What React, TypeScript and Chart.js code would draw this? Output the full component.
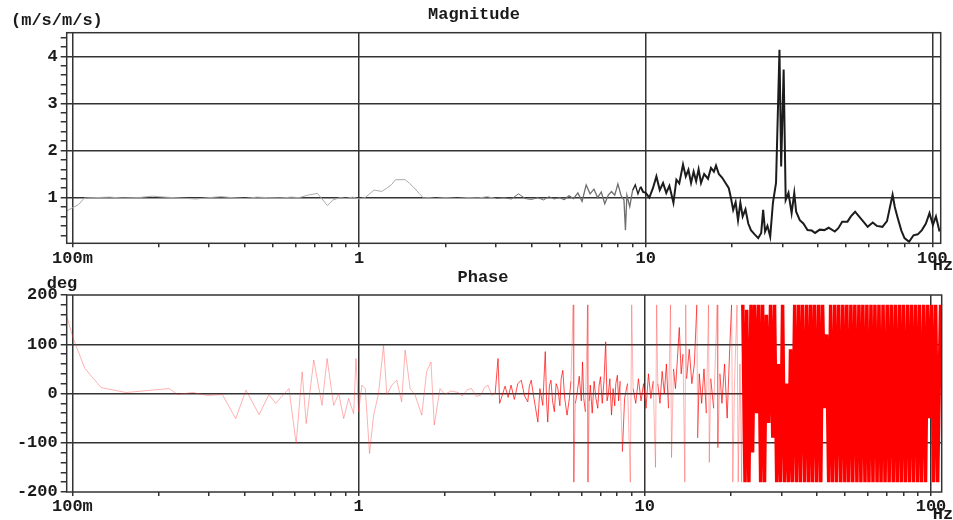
import React, { useEffect, useRef } from 'react';
import { Chart, registerables } from 'chart.js';

Chart.register(...registerables);

// ---------- tick definitions ----------
const xMajorTicks = [0.1, 1, 10, 100];
const xMajorLabels = ['100m', '1', '10', '100'];
const xMinorTicks = [0.2, 0.3, 0.4, 0.5, 0.6, 0.7, 0.8, 0.9, 2, 3, 4, 5, 6, 7, 8, 9, 20, 30, 40, 50, 60, 70, 80, 90];

const magTicks = [0.2, 0.4, 0.6, 0.8, 1, 1.2, 1.4, 1.6, 1.8, 2, 2.2, 2.4, 2.6, 2.8, 3, 3.2, 3.4, 3.6, 3.8, 4, 4.2, 4.4];
const magMajorTicks = [1, 2, 3, 4];

const phaseTicks = [-200, -180, -160, -140, -120, -100, -80, -60, -40, -20, 0, 20, 40, 60, 80, 100, 120, 140, 160, 180, 200];
const phaseMajorTicks = [-200, -100, 0, 100, 200];

// ---------- magnitude (m/s/m/s) ----------
const magFreqs = [
  0.0956, 0.105, 0.11, 0.12, 0.135, 0.15, 0.17, 0.19, 0.21, 0.24, 0.27, 0.3, 0.33, 0.36, 0.4, 0.44, 0.48, 0.53, 0.58, 0.62,
  0.66, 0.716, 0.776, 0.81, 0.86, 0.9, 0.95, 1.0, 1.05, 1.128, 1.2, 1.25, 1.3, 1.34, 1.45, 1.5, 1.55, 1.62, 1.68, 1.75,
  1.85, 2.0, 2.2, 2.4, 2.6, 2.8, 3.0, 3.2, 3.4, 3.6, 3.8, 4.0, 4.2, 4.4, 4.6, 4.8, 5.0, 5.2, 5.4, 5.6,
  5.8, 6.0, 6.2, 6.4, 6.6, 6.8, 7.0, 7.2, 7.4, 7.6, 7.8, 8.0, 8.2, 8.4, 8.5, 8.6, 8.8, 9.0, 9.2, 9.4,
  9.6, 9.8, 10.0, 10.3, 10.6, 10.9, 11.2, 11.5, 11.8, 12.1, 12.5, 12.8, 13.1, 13.5, 13.8, 14.1, 14.4, 14.7, 15.0, 15.3,
  15.6, 16.0, 16.5, 16.9, 17.3, 17.6, 18.0, 18.5, 19.0, 19.5, 19.8, 20.2, 20.6, 21.0, 21.4, 21.8, 22.3, 22.8, 23.3, 24.0,
  24.7, 25.3, 25.7, 26.1, 26.6, 27.2, 27.8, 28.5, 29.3, 29.7, 30.3, 30.8, 31.5, 32.3, 33.0, 33.5, 34.5, 35.5, 36.7, 38.0,
  39.0, 40.5, 42.0, 43.5, 45.7, 47.0, 48.5, 50.6, 52.0, 53.8, 55.5, 57.5, 59.5, 62.0, 64.0, 67.0, 69.5, 72.7, 74.0, 75.5,
  78.0, 80.0, 83.0, 86.0, 89.0, 92.0, 95.0, 97.8, 100.5, 103.0, 106.0,
];
const magValues = [
  0.72, 0.85, 0.99, 1.0, 1.01, 0.99, 1.0, 1.03, 1.01, 0.99, 0.97, 1.0, 1.02, 1.0, 0.98, 1.01, 1.0, 0.99, 1.01, 1.0,
  1.05, 1.09, 0.83, 0.95, 1.0, 0.98, 1.01, 0.97, 1.0, 1.16, 1.13, 1.2, 1.28, 1.38, 1.38, 1.3, 1.22, 1.09, 0.99, 1.0,
  0.98, 1.0, 0.98, 1.0, 0.99, 1.02, 0.98, 1.0, 0.97, 1.08, 0.98, 0.96, 1.0, 0.95, 1.02, 0.97, 1.0, 0.96, 1.04, 0.98,
  1.1, 0.92, 1.27, 1.08, 1.18, 1.0, 1.12, 0.87, 1.05, 1.13, 1.05, 1.29, 1.05, 0.95, 0.31, 1.05, 0.81, 1.15, 1.27, 1.08,
  1.23, 1.12, 1.1, 1.0, 1.2, 1.45, 1.16, 1.31, 1.1, 1.25, 0.89, 1.38, 1.3, 1.7, 1.45, 1.59, 1.31, 1.55, 1.35, 1.6,
  1.31, 1.5, 1.4, 1.63, 1.55, 1.68, 1.5, 1.42, 1.31, 1.2, 1.02, 0.74, 0.9, 0.52, 0.89, 0.6, 0.75, 0.45, 0.31, 0.22,
  0.14, 0.25, 0.74, 0.28, 0.4, 0.17, 0.89, 1.31, 4.14, 1.66, 3.72, 0.95, 1.1, 0.67, 1.1, 0.7, 0.52, 0.45, 0.31, 0.3,
  0.25, 0.32, 0.31, 0.36, 0.28, 0.35, 0.49, 0.49, 0.6, 0.7, 0.6, 0.49, 0.38, 0.47, 0.4, 0.38, 0.5, 1.06, 0.8, 0.6,
  0.3, 0.14, 0.06, 0.2, 0.22, 0.31, 0.45, 0.67, 0.42, 0.6, 0.28,
];

// ---------- phase (deg) ----------
const phaseFreqs = [
  0.0956, 0.1006, 0.1105, 0.126, 0.154, 0.218, 0.233, 0.263, 0.296, 0.334, 0.372, 0.404, 0.449, 0.486, 0.513, 0.571, 0.605, 0.635, 0.656, 0.697,
  0.745, 0.776, 0.818, 0.852, 0.887, 0.923, 0.961, 0.979, 1.0, 1.027, 1.055, 1.092, 1.128, 1.174, 1.222, 1.255, 1.306, 1.359, 1.414, 1.454,
  1.513, 1.575, 1.662, 1.728, 1.79, 1.838, 1.925,
  2.0, 2.1, 2.23, 2.3, 2.4, 2.48, 2.58, 2.68, 2.75, 2.83, 2.92, 3.0, 3.07, 3.11, 3.15, 3.25, 3.33, 3.41, 3.5, 3.6,
  3.7, 3.8, 3.9, 3.95, 4.01, 4.1, 4.23, 4.3, 4.4, 4.49, 4.54, 4.58, 4.64, 4.7, 4.76, 4.83, 4.9, 4.97, 5.05, 5.1,
  5.17, 5.25, 5.35, 5.45, 5.52, 5.62, 5.65, 5.72, 5.8, 5.9, 6.0, 6.06, 6.12, 6.2, 6.31, 6.33, 6.4, 6.45, 6.55, 6.65,
  6.75, 6.85, 6.92, 7.0, 7.1, 7.2, 7.3, 7.38, 7.45, 7.55, 7.65, 7.75, 7.85, 7.92, 8.02, 8.1, 8.2, 8.35,
  8.5, 8.7, 8.9, 9.0, 9.1, 9.3, 9.5, 9.7, 9.9, 10.1, 10.3, 10.5, 10.7, 10.9,
  11.0, 11.1, 11.3, 11.5, 11.7, 11.9, 12.1, 12.3, 12.4, 12.6, 12.8, 13.0, 13.2, 13.4, 13.6, 13.8, 13.9, 14.0, 14.3, 14.6,
  14.9, 15.2, 15.3, 15.5, 15.8, 16.1, 16.4, 16.7, 16.8, 17.0, 17.4, 17.9, 18.0, 18.3, 18.6, 19.0, 19.4, 19.8, 20.1, 20.3,
  20.6, 21.0, 21.2, 21.5, 21.8,
];
const phaseValues = [
  156, 112, 51, 12, 2, 10, -2, 2, -4, -2, -51, 7, -43, -2, -20, 10, -102, 44, -61, 68,
  -24, 71, -24, 0, -51, -10, -41, 71, -37, 17, 10, -122, -44, 0, 98, -3, 17, 27, -17, 88,
  10, -3, -44, 44, 64, -64, 10,
  -2, 5, 2, -5, 8, 10, -6, -3, 12, 17, -4, 0, 71, -20, -10, 15, -8, 17, -12, 20,
  27, -5, -17, 15, 27, -10, -58, 10, -24, 85, -20, -58, 15, 27, -15, -37, 20, 10, -25, 30,
  47, -10, -44, -10, 25, 180, -180, -20, 0, 35, -15, 64, -10, -37, 180, -180, -15, 17, -40, 25,
  -10, -30, 15, 34, -20, 25, 105, -15, -3, 30, -44, 10, -25, 20, 37, -15, 25, -118,
  -10, 20, -180, 180, 10, -20, 30, -15, 20, -30, 40, -10, 25, -150,
  180, 20, -20, 45, 0, 60, -30, 180, -130, 50, 10, 70, 134, 40, 80, -180, 180, 30, 90, 20,
  60, 180, -90, 40, -20, 50, -40, 180, -140, 30, -30, 180, -110, 40, -20, 60, -50, 90, 180, -180,
  30, 180, -180, 60, -180,
];
const phaseDenseFreqs = [
  22.0, 22.4, 22.7, 23.1, 23.5, 23.8, 24.2, 24.6, 25.0, 25.4, 25.8, 26.2, 26.6, 27.1, 27.5, 28.0, 28.4, 28.9, 29.3, 29.8,
  30.3, 30.8, 31.3, 31.8, 32.3, 32.8, 33.4, 33.9, 34.5, 35.0, 35.6, 36.2, 36.8, 37.4, 38.0, 38.6, 39.2, 39.9, 40.5, 41.2,
  41.8, 42.5, 43.2, 43.9, 44.6, 45.3, 46.1, 46.8, 47.6, 48.4, 49.2, 50.0, 50.8, 51.6, 52.5, 53.3, 54.2, 55.1, 56.0, 56.9,
  57.8, 58.8, 59.7, 60.7, 61.7, 62.7, 63.7, 64.8, 65.8, 66.9, 68.0, 69.1, 70.3, 71.4, 72.6, 73.8, 75.0, 76.2, 77.5, 78.7,
  80.0, 81.3, 82.7, 84.0, 85.4, 86.8, 88.2, 89.7, 91.1, 92.6, 94.2, 95.7, 97.3, 98.9, 100.5, 102.1, 103.8, 105.5, 108.0,
];
const phaseDenseValues = [
  180, -180, 170, -180, 180, -120, 180, -40, 180, -180, 180, -180, 160, -60, 180, -90, 180, -180, 60, -180,
  180, -180, 20, -180, 90, -180, 180, -180, 180, -180, 180, -180, 180, -180, 180, -180, 180, -180, 180, -180,
  180, -30, 120, -180, 180, -180, 180, -180, 180, -180, 180, -180, 180, -180, 180, -180, 180, -180, 180, -180,
  180, -180, 180, -180, 180, -180, 180, -180, 180, -180, 180, -180, 180, -180, 180, -180, 180, -180, 180, -180,
  180, -180, 180, -180, 180, -180, 180, -180, 180, -180, 180, -180, 180, -50, 180, -180, 180, -180, 180,
];

const FONT = "'Liberation Mono', 'Courier New', monospace";
const INK = '#1a1a1a';
const GRID = '#333333';

const near = (a: number, b: number) => Math.abs(a - b) < 1e-6 * Math.max(1, Math.abs(b));

function xScale(max: number, axisHeight: number) {
  return {
    type: 'logarithmic' as const,
    min: 0.0955,
    max,
    afterBuildTicks: (s: any) => {
      s.ticks = [...xMajorTicks, ...xMinorTicks].sort((a, b) => a - b).map((v) => ({ value: v }));
    },
    afterFit: (s: any) => {
      s.height = axisHeight;
    },
    border: { display: false },
    grid: {
      color: (c: any) => (c.tick && xMajorTicks.some((m) => near(c.tick.value, m)) ? GRID : 'rgba(0,0,0,0)'),
      tickColor: GRID,
      lineWidth: 1.5,
      tickWidth: 1.5,
      tickLength: 4,
      drawTicks: true,
    },
    ticks: {
      autoSkip: false,
      maxRotation: 0,
      padding: 1,
      color: INK,
      font: { family: FONT, size: 17, weight: 'bold' as const },
      callback: (v: any) => {
        const i = xMajorTicks.findIndex((m) => near(Number(v), m));
        return i >= 0 ? xMajorLabels[i] : '';
      },
    },
  };
}

function yScale(min: number, max: number, ticks: number[], major: number[], gridAt: number[]) {
  return {
    type: 'linear' as const,
    min,
    max,
    afterBuildTicks: (s: any) => {
      s.ticks = ticks.map((v) => ({ value: v }));
    },
    afterFit: (s: any) => {
      s.width = 66.7;
    },
    border: { display: false },
    grid: {
      color: (c: any) => (c.tick && gridAt.some((m) => near(c.tick.value, m)) ? GRID : 'rgba(0,0,0,0)'),
      tickColor: GRID,
      lineWidth: 1.5,
      tickWidth: 1.5,
      tickLength: 6,
      drawTicks: true,
    },
    ticks: {
      autoSkip: false,
      padding: 3,
      color: INK,
      font: { family: FONT, size: 17, weight: 'bold' as const },
      callback: (v: any) => (major.some((m) => near(Number(v), m)) ? String(v) : ''),
    },
  };
}

type Txt = { text: string; x: number; y: number; align: CanvasTextAlign };

function framePlugin(texts: Txt[]) {
  return {
    id: 'frameTexts',
    afterDraw(chart: any) {
      const { ctx, chartArea: a } = chart;
      ctx.save();
      ctx.strokeStyle = GRID;
      ctx.lineWidth = 1.5;
      ctx.strokeRect(a.left, a.top, a.right - a.left, a.bottom - a.top);
      ctx.fillStyle = INK;
      ctx.font = `bold 17px ${FONT}`;
      ctx.textBaseline = 'middle';
      texts.forEach((t) => {
        ctx.textAlign = t.align;
        ctx.fillText(t.text, t.x, t.y);
      });
      ctx.restore();
    },
  };
}

export default function App() {
  const magRef = useRef<HTMLCanvasElement>(null);
  const phaseRef = useRef<HTMLCanvasElement>(null);

  useEffect(() => {
    const magData = magFreqs.map((f, i) => ({ x: f, y: magValues[i] }));
    const phaseData = [
      ...phaseFreqs.map((f, i) => ({ x: f, y: phaseValues[i] })),
      ...phaseDenseFreqs.map((f, i) => ({ x: f, y: phaseDenseValues[i] })),
    ];

    const magChart = new Chart(magRef.current!, {
      type: 'line',
      data: {
        datasets: [
          {
            data: magData,
            borderWidth: 1,
            pointRadius: 0,
            tension: 0,
            borderColor: '#999',
            segment: {
              borderColor: (c: any) => {
                const f = c.p0.parsed.x;
                return f < 3 ? '#ababab' : f < 9 ? '#6e6e6e' : '#1c1c1c';
              },
              borderWidth: (c: any) => {
                const f = c.p0.parsed.x;
                return f < 5 ? 1 : f < 9.5 ? 1.3 : 2;
              },
            },
          },
        ],
      },
      options: {
        animation: false,
        responsive: false,
        layout: { padding: { top: 32.7, right: 12.3, left: 0, bottom: 0 } },
        plugins: { legend: { display: false }, tooltip: { enabled: false }, title: { display: false } },
        scales: {
          x: xScale(107, 32.7),
          y: yScale(0.03, 4.5, magTicks, magMajorTicks, magMajorTicks),
        },
      } as any,
      plugins: [
        framePlugin([
          { text: 'Magnitude', x: 474, y: 15, align: 'center' },
          { text: '(m/s/m/s)', x: 11, y: 21, align: 'left' },
          { text: 'Hz', x: 943, y: 266, align: 'center' },
        ]),
      ],
    });

    const phaseChart = new Chart(phaseRef.current!, {
      type: 'line',
      data: {
        datasets: [
          {
            data: phaseData,
            borderWidth: 1,
            pointRadius: 0,
            tension: 0,
            borderJoinStyle: 'bevel',
            borderColor: '#f00',
            segment: {
              borderColor: (c: any) => {
                const f = c.p0.parsed.x;
                const jump = Math.abs(c.p1.parsed.y - c.p0.parsed.y);
                if (f >= 21.9) return '#ff0000';
                if (f < 3) return 'rgba(255,60,60,0.4)';
                return jump > 140 ? 'rgba(255,0,0,0.3)' : 'rgba(255,0,0,0.7)';
              },
              borderWidth: (c: any) => (c.p0.parsed.x >= 21.9 ? 3.5 : 1),
            },
          },
        ],
      },
      options: {
        animation: false,
        responsive: false,
        layout: { padding: { top: 27, right: 11.3, left: 0, bottom: 0 } },
        plugins: { legend: { display: false }, tooltip: { enabled: false }, title: { display: false } },
        scales: {
          x: xScale(109, 28),
          y: yScale(-200, 200, phaseTicks, phaseMajorTicks, [-100, 0, 100]),
        },
      } as any,
      plugins: [
        framePlugin([
          { text: 'Phase', x: 483, y: 10, align: 'center' },
          { text: 'deg', x: 62, y: 16, align: 'center' },
          { text: 'Hz', x: 943, y: 247, align: 'center' },
        ]),
      ],
    });

    return () => {
      magChart.destroy();
      phaseChart.destroy();
    };
  }, []);

  return (
    <div style={{ position: 'absolute', left: 0, top: 0, width: 953, height: 520, background: '#fff' }}>
      <canvas ref={magRef} width={953} height={276} style={{ position: 'absolute', left: 0, top: 0 }} />
      <canvas ref={phaseRef} width={953} height={252} style={{ position: 'absolute', left: 0, top: 268 }} />
    </div>
  );
}
